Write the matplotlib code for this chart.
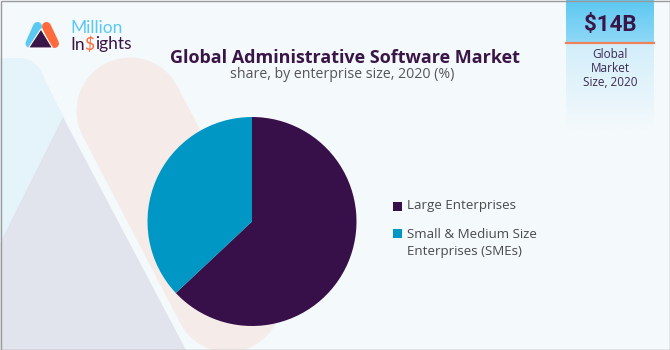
import matplotlib.pyplot as plt
import numpy as np
from matplotlib.patches import Polygon, Rectangle

# market share by enterprise size, 2020 (%)
segments = ["Large Enterprises", "Small & Medium Size\nEnterprises (SMEs)"]
shares = [63, 37]
colors = ["#37104A", "#0097C4"]

title = "Global Administrative Software Market"
subtitle = "share, by enterprise size, 2020 (%)"
market_size = "$14B"
market_note = "Global\nMarket\nSize, 2020"

W, H = 670, 350
bg = "#F4F9FC"
purple = "#3A1547"

plt.rcParams['font.family'] = ['Open Sans', 'DejaVu Sans']

fig = plt.figure(figsize=(W / 100, H / 100), dpi=100, facecolor=bg)

# pixel-space canvas for the decoration and text
ax = fig.add_axes([0, 0, 1, 1])
ax.set_xlim(0, W)
ax.set_ylim(H, 0)
ax.axis('off')
ax.set_facecolor(bg)

# faded logo shapes in the background
ax.add_patch(Polygon([(0, 58), (22, 58), (32, 61), (40, 69), (45, 80),
                      (64, 118), (0, 246)], closed=True,
                     facecolor="#E5F3FB", edgecolor='none', zorder=1))
ax.plot([130, 228], [111, 299], color="#F5ECEA", lw=107 * 0.72,
        solid_capstyle='round', zorder=1)
ax.add_patch(Polygon([(63, 117), (0, 243), (0, H), (186, H)], closed=True,
                     facecolor="#E1E4EC", edgecolor='none', zorder=2))

# market size badge
top = np.linspace(0, 1, 64)[:, None, None]
c1, c2 = np.array([92, 200, 242]), np.array([142, 216, 246])
grad_top = (c1 + (c2 - c1) * top) / 255
ax.imshow(np.repeat(grad_top, 2, axis=1), extent=(566, 654, 42, 0),
          aspect='auto', zorder=3, interpolation='bilinear')
c3, c4 = np.array([210, 238, 250]), np.array([244, 249, 252])
grad_bot = (c3 + (c4 - c3) * top) / 255
ax.imshow(np.repeat(grad_bot, 2, axis=1), extent=(566, 654, 130, 42),
          aspect='auto', zorder=3, interpolation='bilinear')
ax.plot([566, 654], [42.5, 42.5], color="#F0825A", lw=1.6, zorder=4)
ax.text(610, 25, market_size, ha='center', va='center', fontsize=16,
        fontweight='bold', family=['Roboto', 'DejaVu Sans'],
        color=purple, zorder=5)
ax.text(610, 68, market_note, ha='center', va='center', fontsize=8.5,
        color="#3A2A55", linespacing=1.1, zorder=5)

# logo
ax.plot([30, 37.5], [43.5, 26.5], color="#5BC8F2", lw=6.5,
        solid_capstyle='round', zorder=5)
ax.plot([46.5, 54.5], [26.5, 43.5], color="#FF6A3D", lw=6.5,
        solid_capstyle='round', zorder=5)
ax.add_patch(Polygon([(41, 29), (28.5, 48), (52.5, 48)], closed=True,
                     facecolor="#3A1547", edgecolor='white', lw=0.8,
                     zorder=6))
logo_font = ['Lato', 'DejaVu Sans']
ax.text(70, 33, "Million", ha='left', va='baseline', fontsize=12.5,
        family=logo_font, color="#5BC8F2", zorder=5)
fig.canvas.draw()
renderer = fig.canvas.get_renderer()
x = 70
for part, col in [("In", purple), ("$", "#FF6A3D"), ("ights", purple)]:
    t = ax.text(x, 49.5, part, ha='left', va='baseline', fontsize=12.5,
                family=logo_font, color=col, zorder=5)
    x += t.get_window_extent(renderer).width

# headings
ax.text(345, 58, title, ha='center', va='center', fontsize=13,
        fontweight='bold', color=purple, zorder=5)
ax.text(342, 74, subtitle, ha='center', va='center', fontsize=10.2,
        color="#555555", zorder=5)

# legend
legend_y = [206, 233]
for label, col, y in zip(segments, colors, legend_y):
    ax.add_patch(Rectangle((393, y - 4.5), 9, 9, facecolor=col,
                           edgecolor='none', zorder=5))
    if '\n' in label:
        ax.text(407, y - 5, label, ha='left', va='top', fontsize=9.6,
                color="#4A4A4A", linespacing=1.45, zorder=5)
    else:
        ax.text(407, y - 0.5, label, ha='left', va='center', fontsize=9.6,
                color="#4A4A4A", zorder=5)

# border
ax.add_patch(Rectangle((0.5, 0.5), W - 1, H - 1, fill=False,
                       edgecolor="#9A9A9A", lw=1, zorder=10))

# pie
cx, cy, r = 252, 221.5, 104.5
pax = fig.add_axes([(cx - r) / W, (H - cy - r) / H, 2 * r / W, 2 * r / H])
pax.pie(shares, colors=colors, startangle=90, counterclock=False,
        wedgeprops=dict(linewidth=0))
pax.set_xlim(-1, 1)
pax.set_ylim(-1, 1)
pax.axis('off')

fig.savefig("out.png", dpi=100, facecolor=bg)
